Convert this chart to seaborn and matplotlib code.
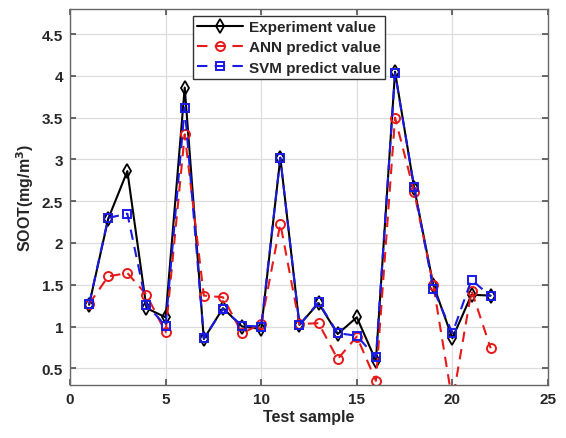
import numpy as np
import pandas as pd
import matplotlib
matplotlib.use("Agg")
import matplotlib.pyplot as plt
import seaborn as sns

samples = list(range(1, 23))
experiment = [1.26, 2.29, 2.86, 1.22, 1.11, 3.86, 0.85, 1.22, 1.00, 0.97, 3.02,
              1.02, 1.28, 0.91, 1.11, 0.59, 4.05, 2.66, 1.50, 0.86, 1.38, 1.37]
ann = [1.27, 1.60, 1.64, 1.38, 0.93, 3.30, 1.37, 1.35, 0.92, 1.03, 2.23,
       1.03, 1.04, 0.61, 0.88, 0.35, 3.50, 2.61, 1.50, 0.10, 1.43, 0.74]
svm = [1.27, 2.30, 2.35, 1.26, 1.01, 3.62, 0.86, 1.21, 1.01, 1.00, 3.02,
       1.02, 1.29, 0.92, 0.89, 0.63, 4.03, 2.67, 1.45, 0.92, 1.56, 1.36]
xticks = [0, 5, 10, 15, 20, 25]
yticks = [0.5, 1, 1.5, 2, 2.5, 3, 3.5, 4, 4.5]

sns.set_theme(style="whitegrid")
plt.rcParams['font.family'] = ['Liberation Sans', 'DejaVu Sans']
plt.rcParams['font.weight'] = 'bold'

df = pd.DataFrame({"x": samples, "exp": experiment, "ann": ann, "svm": svm})

fig = plt.figure(figsize=(5.66, 4.39), dpi=100)
ax = fig.add_axes([70/566, 1-386/439, (548-70)/566, (386-10)/439])

red = "#e61a1a"
blue = "#1a1ae6"
sns.lineplot(data=df, x="x", y="exp", ax=ax, color="black", lw=1.5,
             marker="d", markersize=7, markerfacecolor="none", markeredgecolor="black",
             markeredgewidth=1.3, label="Experiment value")
sns.lineplot(data=df, x="x", y="ann", ax=ax, color=red, lw=1.5,
             linestyle=(0, (5, 3.5)), marker="o", markersize=6.5, markerfacecolor="none",
             markeredgecolor=red, markeredgewidth=1.4, label="ANN predict value")
sns.lineplot(data=df, x="x", y="svm", ax=ax, color=blue, lw=1.5,
             linestyle=(0, (5, 3.5)), marker="s", markersize=5.5, markerfacecolor="none",
             markeredgecolor=blue, markeredgewidth=1.4, label="SVM predict value")

ax.set_xlim(0, 25)
ax.set_ylim(0.3, 4.8)
ax.set_xticks(xticks)
ax.set_yticks(yticks)
ax.set_xticklabels([str(t) for t in xticks])
ax.set_yticklabels([("%g" % t) for t in yticks])
ax.tick_params(axis="both", labelsize=11, direction="in", length=4, color="#555555",
               top=True, right=True, bottom=True, left=True, pad=5)
for lab in ax.get_xticklabels() + ax.get_yticklabels():
    lab.set_fontweight("bold")
    lab.set_color("#262626")
ax.grid(True, color="#dddddd", lw=0.9)
for s in ax.spines.values():
    s.set_color("#666666")
    s.set_linewidth(1.0)
ax.set_facecolor("white")

ax.set_xlabel("Test sample", fontsize=11.5, fontweight="bold", color="#262626", labelpad=2)
ax.set_ylabel("SOOT(mg/m$^3$)", fontsize=11.5, fontweight="bold", color="#262626", labelpad=4)

leg = ax.legend(loc="upper left", bbox_to_anchor=(0.258, 0.981), fontsize=11,
                frameon=True, fancybox=False, edgecolor="#333333", framealpha=1,
                handlelength=3.0, borderpad=0.25, labelspacing=0.42, handletextpad=0.4,
                borderaxespad=0)
for t in leg.get_texts():
    t.set_fontweight("bold")
leg.get_frame().set_linewidth(1.0)

fig.savefig("out.png", dpi=100)
